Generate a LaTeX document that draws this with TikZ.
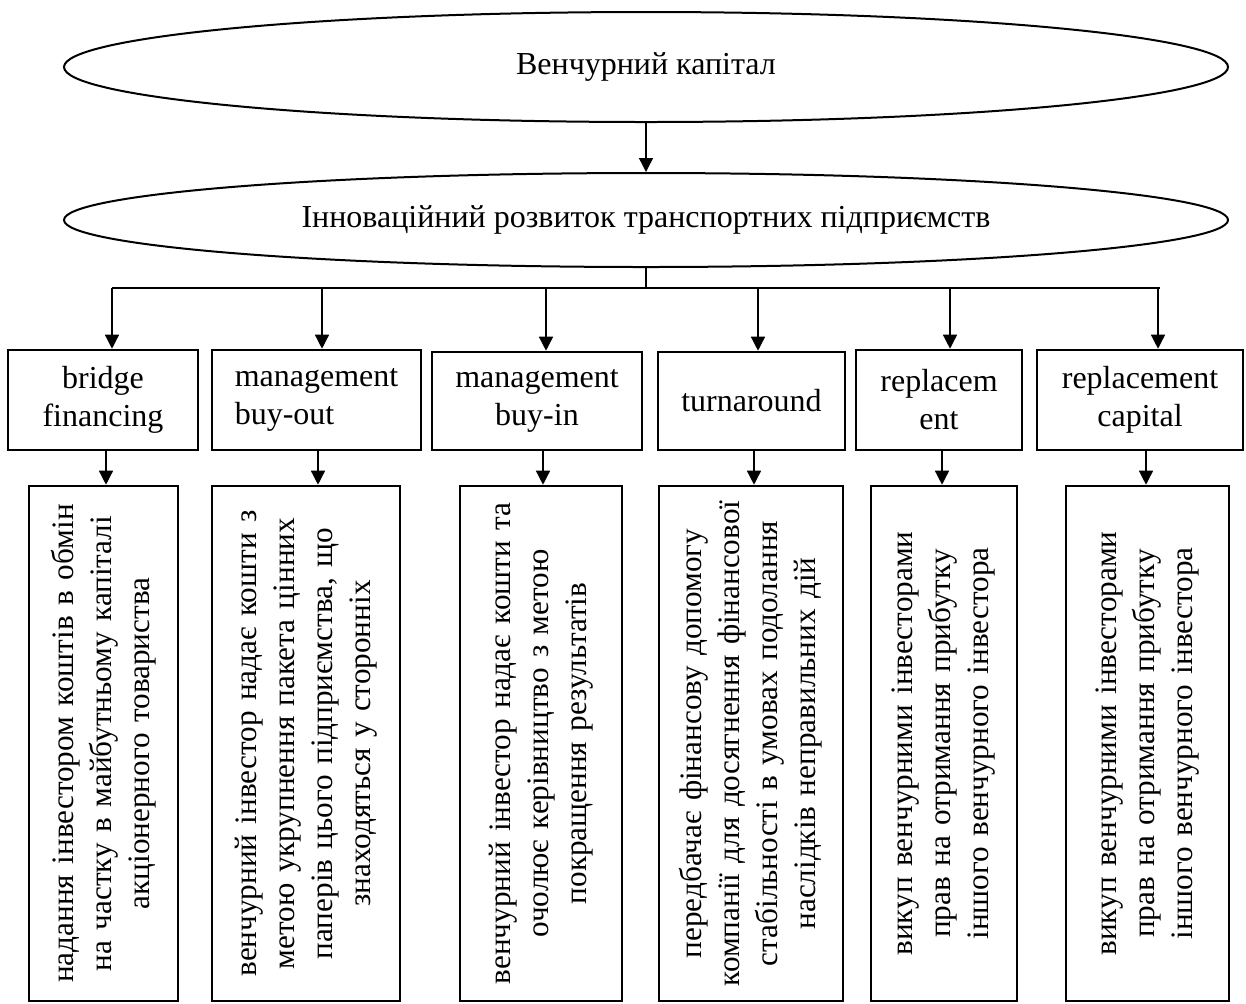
\documentclass[tikz,border=0pt]{standalone}
\usepackage{fontspec}
\setmainfont{Liberation Serif}
\usetikzlibrary{arrows.meta,shapes.geometric}

\begin{document}
\begin{tikzpicture}[x=0.5pt, y=-0.5pt, >={Triangle[width=7pt,length=7pt]},
  txt/.style={font=\fontsize{16}{19}\selectfont},
  oval/.style={ellipse, draw, txt, line width=1pt, minimum width=582pt, inner sep=0pt},
  kind/.style={rectangle, draw, txt, line width=1.3pt, inner sep=0pt},
  desc/.style={rectangle, draw, font=\fontsize{15.6}{19}\selectfont, line width=1.3pt, rotate=90, minimum width=257.5pt, text width=257pt, align=center, inner sep=0pt},
  link/.style={->, line width=0.7pt}]
\useasboundingbox (0,0) rectangle (1246,1003);
\node[oval, minimum height=55pt] (e1) at (646,67) {\raisebox{-2.5pt}{Венчурний капітал}};
\node[oval, minimum height=47pt] (e2) at (646,220) {Інноваційний розвиток транспортних підприємств};
\coordinate (bar) at (646,288);
\draw[link] (e1) -- (e2);
\draw[line width=0.7pt] (e2.south) -- (bar);
\draw[line width=0.8pt] (112,0 |- bar) -- (1160,0 |- bar);
% types of venture financing
\foreach \i/\x/\y/\w/\h/\o/\t in {1/103/400/190/100/center/{bridge\\financing},
    2/316.5/400/209/100/left/{management\\buy-out},
    3/537/401/210/98/center/{management\\buy-in},
    4/751.5/401/187/98/center/{turnaround},
    5/939/400/166/100/center/{replacem\\ent},
    6/1140/400/206/100/center/{replacement\\capital}}
  \node[kind, align=\o, minimum width=\w*0.5pt, minimum height=\h*0.5pt] (t\i) at (\x,\y) {\t};
% descriptions
\foreach \i/\x/\w/\t in {1/103.5/149/{надання інвестором коштів в обмін\\на частку в майбутньому капіталі\\акціонерного товариства},
    2/306/188/{венчурний інвестор надає кошти з\\метою укрупнення пакета цінних\\паперів цього підприємства, що\\знаходяться у сторонніх},
    3/541/162/{венчурний інвестор надає кошти та\\очолює керівництво з метою\\покращення результатів},
    4/751/184/{передбачає фінансову допомогу\\компанії для досягнення фінансової\\стабільності в умовах подолання\\наслідків неправильних дій},
    5/944/146/{викуп венчурними інвесторами\\прав на отримання прибутку\\іншого венчурного інвестора},
    6/1147.5/163/{викуп венчурними інвесторами\\прав на отримання прибутку\\іншого венчурного інвестора}}
  \node[desc, minimum height=\w*0.5pt] (c\i) at (\x,743.5) {\t};
\foreach \i/\a in {1/112,2/322,3/546,4/758,5/950,6/1158}
  \draw[link] (\a,0 |- bar) -- (\a,0 |- t\i.north);
\foreach \i/\a in {1/106,2/318,3/543,4/754,5/942,6/1146}
  \draw[link] (\a,0 |- t\i.south) -- (\a,0 |- c\i.east);
\end{tikzpicture}
\end{document}
